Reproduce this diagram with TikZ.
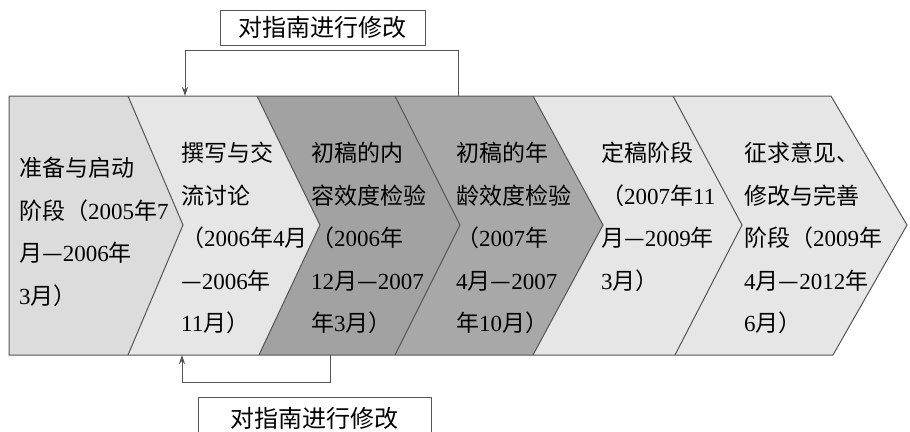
\documentclass[tikz,border=0pt]{standalone}
\usepackage{fontspec}
\setmainfont{Noto Sans CJK SC}
\newfontfamily\digfont{Liberation Serif}
\newcommand\dg[1]{{\digfont #1}}
\usetikzlibrary{arrows.meta}
\definecolor{lineg}{HTML}{555555}
\definecolor{lightA}{HTML}{DCDCDC}
\definecolor{lightB}{HTML}{E6E6E6}
\definecolor{darkA}{HTML}{A2A2A2}
\definecolor{darkB}{HTML}{A8A8A8}
\tikzset{
  chev/.style={draw=lineg, line width=1pt},
  stagetext/.style={anchor=north west, align=left, inner sep=0pt, text=black,
    font=\fontsize{23}{42.5}\selectfont},
  labelbox/.style={draw=lineg, line width=0.9pt, inner sep=0pt, text=black,
    font=\fontsize{24}{28}\selectfont, minimum height=35pt},
  conn/.style={draw=lineg, line width=1pt},
  arr/.style={conn, -{Stealth[length=9pt,width=6pt]}}
}
\begin{document}
\begin{tikzpicture}[x=1pt,y=-1pt]
\useasboundingbox (0,0) rectangle (910,431);
% chevrons
\fill[lightA] (9,96) -- (128,96) -- (183,225) -- (128,355) -- (9,355) -- cycle;
\fill[lightB] (128,96) -- (257,96) -- (320,225) -- (259,355) -- (128,355) -- (183,225) -- cycle;
\fill[darkA] (257,96) -- (395,96) -- (460,225) -- (395,355) -- (259,355) -- (320,225) -- cycle;
\fill[darkB] (395,96) -- (533,96) -- (603,225) -- (533,355) -- (395,355) -- (460,225) -- cycle;
\fill[lightB] (533,96) -- (673,96) -- (742,225) -- (675,355) -- (533,355) -- (603,225) -- cycle;
\fill[lightB] (673,96) -- (831,96) -- (907,225) -- (833,355) -- (675,355) -- (742,225) -- cycle;
\draw[chev] (9,96) -- (831,96) -- (907,225) -- (833,355) -- (9,355) -- cycle;
\draw[chev] (128,96) -- (183,225) -- (128,355);
\draw[chev] (257,96) -- (320,225) -- (259,355);
\draw[chev] (395,96) -- (460,225) -- (395,355);
\draw[chev] (533,96) -- (603,225) -- (533,355);
\draw[chev] (673,96) -- (742,225) -- (675,355);
% texts
\node[stagetext] (s1) at (19,157) {准备与启动\\阶段（\dg{2005}年\dg{7}\\月—\dg{2006}年\\\dg{3}月）};
\node[stagetext] (s2) at (181,142) {撰写与交\\流讨论\\（\dg{2006}年\dg{4}月\\—\dg{2006}年\\\dg{11}月）};
\node[stagetext] (s3) at (311,142) {初稿的内\\容效度检验\\（\dg{2006}年\\\dg{12}月—\dg{2007}\\年\dg{3}月）};
\node[stagetext] (s4) at (456,142) {初稿的年\\龄效度检验\\（\dg{2007}年\\\dg{4}月—\dg{2007}\\年\dg{10}月）};
\node[stagetext] (s5) at (601,142) {定稿阶段\\（\dg{2007}年\dg{11}\\月—\dg{2009}年\\\dg{3}月）};
\node[stagetext] (s6) at (744,142) {征求意见、\\修改与完善\\阶段（\dg{2009}年\\\dg{4}月—\dg{2012}年\\\dg{6}月）};
% label boxes
\node[labelbox, minimum width=205pt] (top) at (322.5,27.5) {对指南进行修改};
\node[labelbox, minimum width=233pt, minimum height=42pt] (bot) at (314.5,418) {对指南进行修改};
% connectors
\coordinate (ta) at (458,96);
\coordinate (tb) at (185,96);
\coordinate (tl) at (0,50);
\draw[arr] (ta) -- (ta |- tl) -| (tb);
\coordinate (ba) at (330,355);
\coordinate (bb) at (182,355);
\coordinate (bl) at (0,382);
\draw[arr] (ba) -- (ba |- bl) -| (bb);
\end{tikzpicture}
\end{document}
